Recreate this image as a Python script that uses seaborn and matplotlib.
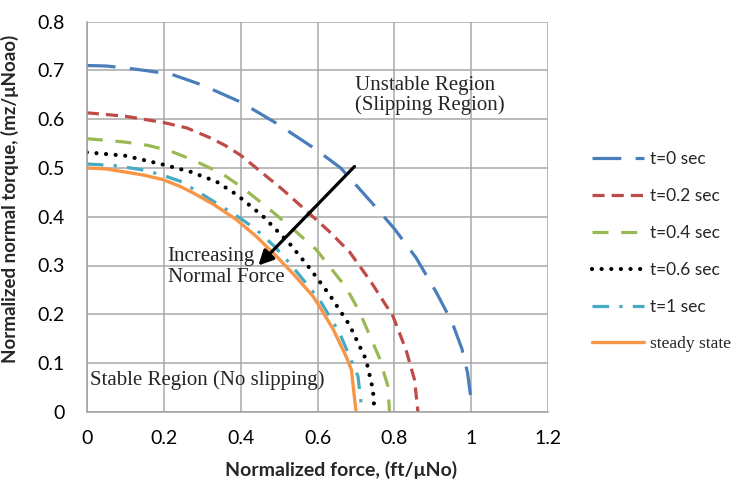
import matplotlib
matplotlib.use("Agg")
import matplotlib.pyplot as plt
import seaborn as sns

# curves (normalized force, normalized torque)
t0_x = [0, 0.05, 0.1, 0.15, 0.22, 0.3, 0.4, 0.49, 0.59, 0.66, 0.70, 0.753, 0.8, 0.856, 0.908, 0.95, 0.975, 0.99, 0.999]
t0_y = [0.71, 0.709, 0.705, 0.700, 0.692, 0.670, 0.635, 0.593, 0.541, 0.500, 0.465, 0.418, 0.375, 0.316, 0.246, 0.183, 0.13, 0.08, 0.025]

t02_x = [0, 0.1, 0.2, 0.26, 0.32, 0.36, 0.4, 0.51, 0.571, 0.63, 0.683, 0.74, 0.796, 0.83, 0.852, 0.861]
t02_y = [0.613, 0.606, 0.593, 0.582, 0.562, 0.546, 0.526, 0.455, 0.412, 0.37, 0.328, 0.265, 0.196, 0.127, 0.066, 0]

t04_x = [0, 0.1, 0.16, 0.216, 0.28, 0.354, 0.4, 0.46, 0.527, 0.596, 0.674, 0.709, 0.761, 0.783, 0.787]
t04_y = [0.56, 0.553, 0.546, 0.535, 0.515, 0.487, 0.462, 0.425, 0.381, 0.333, 0.255, 0.205, 0.11, 0.052, 0]

t06_x = [0, 0.1, 0.198, 0.27, 0.337, 0.39, 0.458, 0.527, 0.579, 0.631, 0.683, 0.726, 0.744, 0.748]
t06_y = [0.532, 0.525, 0.507, 0.492, 0.472, 0.445, 0.401, 0.345, 0.295, 0.24, 0.178, 0.107, 0.045, 0]

t1_x = [0, 0.07, 0.138, 0.19, 0.242, 0.294, 0.397, 0.44, 0.488, 0.527, 0.605, 0.657, 0.705, 0.713, 0.715]
t1_y = [0.508, 0.505, 0.497, 0.487, 0.473, 0.449, 0.398, 0.374, 0.339, 0.305, 0.23, 0.162, 0.073, 0.018, 0]

ss_x = [0, 0.05, 0.112, 0.15, 0.198, 0.24, 0.276, 0.33, 0.389, 0.44, 0.493, 0.54, 0.588, 0.605, 0.64, 0.674, 0.688, 0.70]
ss_y = [0.5, 0.498, 0.49, 0.485, 0.476, 0.463, 0.449, 0.425, 0.394, 0.36, 0.319, 0.28, 0.237, 0.216, 0.17, 0.114, 0.086, 0]

labels = ["t=0 sec", "t=0.2 sec", "t=0.4 sec", "t=0.6 sec", "t=1 sec", "steady state"]
colors = ["#4A7EBB", "#BE4B48", "#98B954", "#000000", "#46AAC5", "#F79646"]

x_ticks = [0, 0.2, 0.4, 0.6, 0.8, 1.0, 1.2]
x_tick_labels = ["0", "0.2", "0.4", "0.6", "0.8", "1", "1.2"]
y_ticks = [0, 0.1, 0.2, 0.3, 0.4, 0.5, 0.6, 0.7, 0.8]
y_tick_labels = ["0", "0.1", "0.2", "0.3", "0.4", "0.5", "0.6", "0.7", "0.8"]

sns.set_style("white")
plt.rcParams["font.family"] = ["Lato", "DejaVu Sans"]

fig = plt.figure(figsize=(7.36, 4.8), dpi=100)
ax = fig.add_axes([0.118, 0.142, 0.627, 0.813])

series = [(t0_x, t0_y), (t02_x, t02_y), (t04_x, t04_y), (t06_x, t06_y), (t1_x, t1_y), (ss_x, ss_y)]
styles = [
    dict(linestyle=(0, (9, 4.5)), linewidth=2.3),
    dict(linestyle=(0, (3.8, 2.2)), linewidth=2.3),
    dict(linestyle=(0, (5, 4)), linewidth=2.3),
    dict(linestyle=(0, (0.01, 2.3)), linewidth=3.0, dash_capstyle="round"),
    dict(linestyle=(0, (5.2, 3.2, 1.0, 3.2)), linewidth=2.3),
    dict(linestyle="-", linewidth=2.4),
]
for (xs, ys), lab, col, st in zip(series, labels, colors, styles):
    sns.lineplot(x=xs, y=ys, sort=False, estimator=None, color=col, label=lab, ax=ax, **st)

ax.set_xlim(0, 1.2)
ax.set_ylim(0, 0.8)
ax.set_xticks(x_ticks)
ax.set_xticklabels(x_tick_labels)
ax.set_yticks(y_ticks)
ax.set_yticklabels(y_tick_labels)
ax.grid(True, color="#A8A8A8", linewidth=1.1)
ax.set_axisbelow(True)
for side in ["top", "right"]:
    ax.spines[side].set_visible(False)
for side in ["left", "bottom"]:
    ax.spines[side].set_color("#A0A0A0")
    ax.spines[side].set_linewidth(1.1)
ax.tick_params(axis="both", colors="#A0A0A0", labelcolor="black", labelsize=14,
               length=5, width=1.1, direction="out")
ax.tick_params(axis="y", pad=11)
ax.tick_params(axis="x", pad=8)

ax.set_xlabel("Normalized force, (ft/μNo)", fontsize=14, fontweight="bold")
ax.set_ylabel("Normalized normal torque, (mz/μNoao)", fontsize=13.5, fontweight="bold")
ax.xaxis.set_label_coords(0.55, -0.125)
ax.yaxis.set_label_coords(-0.147, 0.546)

serif = ["Liberation Serif", "DejaVu Serif"]
ax.text(0.696, 0.649, "Unstable Region\n(Slipping Region)", family=serif, fontsize=15,
        va="center", ha="left", linespacing=1.05)
ax.text(0.21, 0.297, "Increasing\nNormal Force", family=serif, fontsize=15,
        va="center", ha="left", linespacing=1.2)
ax.text(0.008, 0.066, "Stable Region (No slipping)", family=serif, fontsize=15,
        va="center", ha="left")
ax.annotate("", xy=(0.441, 0.296), xytext=(0.701, 0.507),
            arrowprops=dict(arrowstyle="-|>", lw=2.3, color="black", mutation_scale=22))

leg = ax.legend(loc="center left", bbox_to_anchor=(0.804, 0.476), bbox_transform=fig.transFigure,
                frameon=False, fontsize=12.5, handlelength=3.0, handletextpad=0.35,
                labelspacing=1.2, borderpad=0, borderaxespad=0)
leg.get_texts()[-1].set_fontfamily(serif)
leg.get_texts()[-1].set_fontsize(12.5)

fig.savefig("out.png", dpi=100)
